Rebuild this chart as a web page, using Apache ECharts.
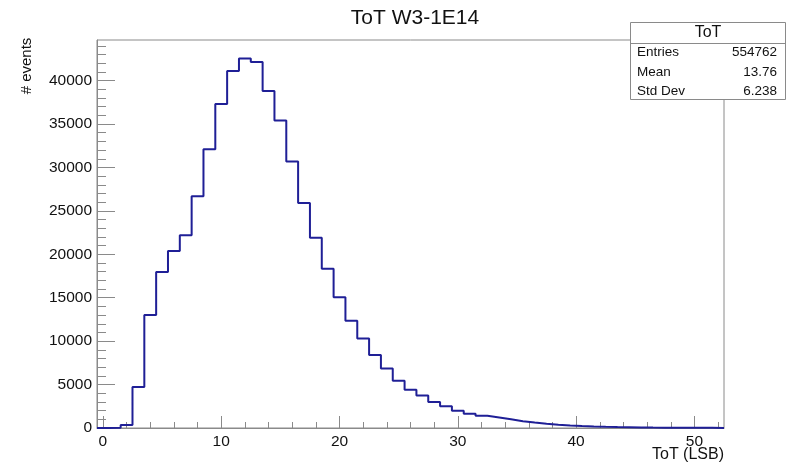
<!DOCTYPE html>
<html>
<head>
<meta charset="utf-8">
<script src="https://cdn.jsdelivr.net/npm/echarts@6/dist/echarts.min.js"></script>
<style>
html,body{margin:0;padding:0;background:#fff;}
#chart{width:791px;height:463px;}
</style>
</head>
<body>
<div id="chart"></div>
<script>
// Bin centers (ToT in LSB), bin width 1
const binCenters = [0,1,2,3,4,5,6,7,8,9,10,11,12,13,14,15,16,17,18,19,20,21,22,23,24,25,26,27,28,29,30,31,32,33,34,35,36,37,38,39,40,41,42,43,44,45,46,47,48,49,50,51,52];
// Counts per bin (# events)
const counts = [10,40,350,4730,13000,17950,20380,22200,26700,32100,37300,41100,42550,42150,38800,35400,30700,25900,21900,18350,15050,12350,10300,8400,6850,5450,4400,3750,3000,2500,2000,1650,1400,1200,1000,780,620,480,380,300,230,180,140,110,90,70,50,40,30,25,20,15,10];
const xMajorTicks = [0,10,20,30,40,50];
const xMinorTicks = [2,4,6,8,12,14,16,18,22,24,26,28,32,34,36,38,42,44,46,48,52];
const yMajorTicks = [0,5000,10000,15000,20000,25000,30000,35000,40000];
const yMinorTicks = [1000,2000,3000,4000,6000,7000,8000,9000,11000,12000,13000,14000,16000,17000,18000,19000,21000,22000,23000,24000,26000,27000,28000,29000,31000,32000,33000,34000,36000,37000,38000,39000,41000,42000,43000,44000];
const statsLabels = ['Entries','Mean','Std Dev'];
const statsValues = ['554762','13.76','6.238'];

const binWidth = 1;
const xMin = -0.5, xMax = 52.5, yMax = 44680;

// step line through bin edges
const stepData = [[binCenters[0]-binWidth/2, 0]];
binCenters.forEach((c,i)=>stepData.push([c-binWidth/2, counts[i]]));
stepData.push([binCenters[binCenters.length-1]+binWidth/2, counts[counts.length-1]]);

const axisColor = '#8a8a8a';
const font = '"Liberation Sans", Arial, Helvetica, sans-serif';
const gridRect = {left:97, right:67, top:40, bottom:35};

const chart = echarts.init(document.getElementById('chart'), null, {renderer:'canvas'});
const statsGraphics = [
  {type:'rect', shape:{x:630.5,y:22.5,width:155,height:77}, style:{fill:'#fff',stroke:axisColor,lineWidth:1}, z:100},
  {type:'line', shape:{x1:630.5,y1:43.5,x2:785.5,y2:43.5}, style:{stroke:axisColor,lineWidth:1}, z:101},
  {type:'text', x:708, y:33, style:{text:'ToT', font:'16px '+font, fill:'#111', align:'center', verticalAlign:'middle'}, z:101}
];
const rowY = [52, 72, 91];
statsLabels.forEach((l,i)=>{
  statsGraphics.push({type:'text', x:637, y:rowY[i], style:{text:l, font:'13.5px '+font, fill:'#111', align:'left', verticalAlign:'middle'}, z:101});
  statsGraphics.push({type:'text', x:777, y:rowY[i], style:{text:statsValues[i], font:'13.5px '+font, fill:'#111', align:'right', verticalAlign:'middle'}, z:101});
});

chart.setOption({
  animation:false,
  backgroundColor:'#fff',
  title:{text:'ToT W3-1E14', left:410, top:3, textAlign:'center',
    textStyle:{fontFamily:font, fontSize:21, fontWeight:'normal', color:'#111'}},
  grid:[
    Object.assign({show:true, borderColor:axisColor, borderWidth:1, backgroundColor:'transparent'}, gridRect),
    Object.assign({show:false}, gridRect)
  ],
  xAxis:[
    {type:'value', gridIndex:0, min:xMin, max:xMax, position:'bottom',
      axisLine:{show:true, onZero:false, lineStyle:{color:axisColor}},
      axisTick:{show:true, inside:true, length:12, customValues:xMajorTicks, lineStyle:{color:axisColor}},
      axisLabel:{show:true, customValues:xMajorTicks, margin:6, fontFamily:font, fontSize:15.5, color:'#111',
        formatter:v=>String(v)},
      splitLine:{show:false}},
    {type:'value', gridIndex:1, min:xMin, max:xMax, position:'bottom',
      axisLine:{show:false, onZero:false},
      axisTick:{show:true, inside:true, length:6, customValues:xMinorTicks, lineStyle:{color:axisColor}},
      axisLabel:{show:false}, splitLine:{show:false}}
  ],
  yAxis:[
    {type:'value', gridIndex:0, min:0, max:yMax, position:'left',
      axisLine:{show:true, onZero:false, lineStyle:{color:axisColor}},
      axisTick:{show:true, inside:true, length:18, customValues:yMajorTicks, lineStyle:{color:axisColor}},
      axisLabel:{show:true, customValues:yMajorTicks, margin:5, fontFamily:font, fontSize:15.5, color:'#111',
        formatter:v=>String(v)},
      splitLine:{show:false}},
    {type:'value', gridIndex:1, min:0, max:yMax, position:'left',
      axisLine:{show:false, onZero:false},
      axisTick:{show:true, inside:true, length:9, customValues:yMinorTicks, lineStyle:{color:axisColor}},
      axisLabel:{show:false}, splitLine:{show:false}}
  ],
  series:[{
    type:'line', name:'ToT', step:'end', data:stepData, xAxisIndex:0, yAxisIndex:0,
    showSymbol:false, symbol:'none', lineStyle:{color:'#1f1f96', width:2}, itemStyle:{color:'#1f1f96'}, z:5
  }],
  graphic:[
    {type:'text', x:724, y:455, style:{text:'ToT (LSB)', font:'16px '+font, fill:'#111', align:'right', verticalAlign:'middle'}},
    {type:'text', x:27, y:66, rotation:Math.PI/2, style:{text:'# events', font:'15px '+font, fill:'#111', align:'center', verticalAlign:'middle'}}
  ].concat(statsGraphics)
});
</script>
</body>
</html>
